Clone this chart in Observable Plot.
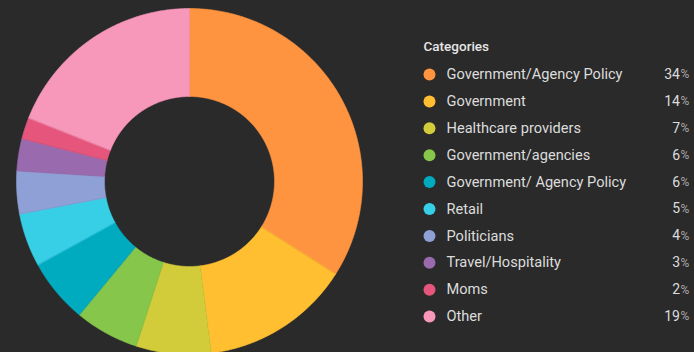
<!DOCTYPE html>
<html>
<head>
<meta charset="utf-8">
<script src="https://cdn.jsdelivr.net/npm/d3@7"></script>
<script src="https://cdn.jsdelivr.net/npm/@observablehq/plot@0.6"></script>
<style>
  html, body { margin: 0; padding: 0; background: #2a2a2a; }
  #chart { width: 694px; height: 352px; overflow: hidden; }
  svg { display: block; }
</style>
</head>
<body>
<div id="chart"></div>
<script>
const categories = [
  "Government/Agency Policy", "Government", "Healthcare providers",
  "Government/agencies", "Government/ Agency Policy", "Retail",
  "Politicians", "Travel/Hospitality", "Moms", "Other"
];
const values = [34, 14, 7, 6, 6, 5, 4, 3, 2, 19];
const colors = [
  "#ff9440", "#ffbf30", "#d2cb3a", "#86c64a", "#00abc0",
  "#36cfe6", "#8fa0d6", "#9a6aae", "#e6557b", "#f798bb"
];
const legendTitle = "Categories";

// layout (pixels)
const W = 694, H = 352;
const cx = 189, cy = 181, rOuter = 173, rInner = 85;
const legX = 429, legY0 = 74, legDy = 26.9;

const total = d3.sum(values);
let acc = 0;
const slices = categories.map((c, i) => {
  const a0 = acc / total * 2 * Math.PI;
  acc += values[i];
  const a1 = acc / total * 2 * Math.PI;
  return {category: c, value: values[i], a0, a1, i};
});

// polygon points for each ring segment
const pts = [];
for (const s of slices) {
  const n = Math.max(8, Math.ceil((s.a1 - s.a0) * 120));
  for (let k = 0; k <= n; k++) {
    const a = s.a0 + (s.a1 - s.a0) * k / n;
    pts.push({category: s.category, x: cx + rOuter * Math.sin(a), y: cy - rOuter * Math.cos(a)});
  }
  for (let k = n; k >= 0; k--) {
    const a = s.a0 + (s.a1 - s.a0) * k / n;
    pts.push({category: s.category, x: cx + rInner * Math.sin(a), y: cy - rInner * Math.cos(a)});
  }
}

const legend = categories.map((c, i) => ({category: c, value: values[i], y: legY0 + i * legDy}));

const plot = Plot.plot({
  width: W,
  height: H,
  margin: 0,
  style: {background: "#2a2a2a", fontFamily: "Roboto, sans-serif"},
  x: {domain: [0, W], range: [0, W], axis: null},
  y: {domain: [0, H], range: [0, H], axis: null},
  color: {domain: categories, range: colors},
  marks: [
    Plot.line(pts, {x: "x", y: "y", z: "category", fill: "category", stroke: "category", strokeWidth: 0.6, curve: "linear-closed"}),
    Plot.text([legendTitle], {x: () => 423, y: () => 46, text: d => d, textAnchor: "start", fill: "#e6e6e6", fontSize: 13.5, fontWeight: 500}),
    Plot.dot(legend, {x: () => legX, y: "y", r: 6, fill: "category"}),
    Plot.text(legend, {x: () => 446, y: "y", text: "category", textAnchor: "start", fill: "#dcdcdc", fontSize: 14.6}),
    Plot.text(legend, {x: () => 679.5, y: "y", text: d => String(d.value), textAnchor: "end", fill: "#dcdcdc", fontSize: 14}),
    Plot.text(legend, {x: () => 680, y: "y", text: () => "%", textAnchor: "start", fill: "#a8a8a8", fontSize: 12})
  ]
});
document.getElementById("chart").appendChild(plot);
</script>
</body>
</html>
